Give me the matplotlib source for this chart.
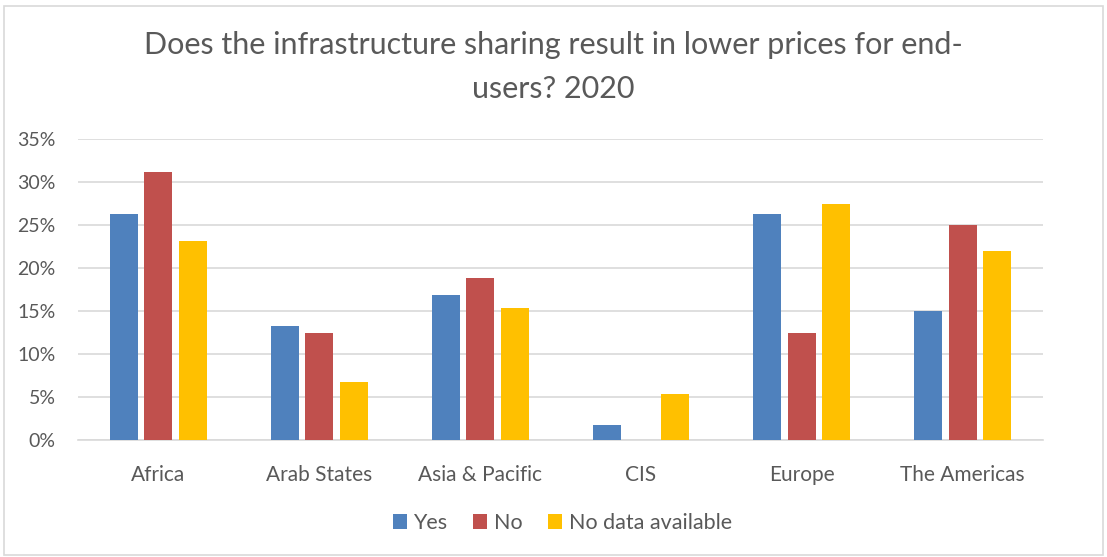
import matplotlib
matplotlib.use("Agg")
import matplotlib.pyplot as plt
from matplotlib.patches import Rectangle
from matplotlib.ticker import FuncFormatter
import numpy as np

plt.rcParams['font.family'] = ['Lato', 'DejaVu Sans']

regions = ["Africa", "Arab States", "Asia & Pacific", "CIS", "Europe", "The Americas"]
yes = [26.3, 13.3, 16.9, 1.8, 26.3, 15.0]
no = [31.2, 12.4, 18.8, 0.0, 12.4, 25.0]
no_data = [23.1, 6.7, 15.4, 5.4, 27.4, 22.0]

series = [("Yes", yes, "#4F81BD"), ("No", no, "#C0504D"), ("No data available", no_data, "#FFC000")]
text_col = "#595959"

fig = plt.figure(figsize=(11.07, 5.57), dpi=100)
ax = fig.add_axes([0.0705, 0.210, 0.8717, 0.5404])

x = np.arange(len(regions))
step = 0.214
width = 0.174
for i, (name, vals, col) in enumerate(series):
    ax.bar(x + (i - 1) * step, vals, width, color=col, label=name, zorder=3)

ax.set_xlim(-0.5, len(regions) - 0.5)
ax.set_ylim(0, 35)
ax.set_yticks(np.arange(0, 36, 5))
ax.yaxis.set_major_formatter(FuncFormatter(lambda v, p: f"{v:.0f}%"))
ax.set_xticks(x)
ax.set_xticklabels(regions)
ax.grid(axis="y", color="#D9D9D9", linewidth=1.2, zorder=0)
for s in ["top", "right", "left"]:
    ax.spines[s].set_visible(False)
ax.spines["bottom"].set_color("#D9D9D9")
ax.spines["bottom"].set_linewidth(1.2)
ax.tick_params(axis="both", length=0, colors=text_col)
ax.tick_params(axis="x", pad=18, labelsize=15)
ax.tick_params(axis="y", pad=16, labelsize=14)

fig.text(0.5, 0.919, "Does the infrastructure sharing result in lower prices for end-",
         ha="center", va="center", fontsize=22, color=text_col)
fig.text(0.5, 0.841, "users? 2020", ha="center", va="center", fontsize=22, color=text_col)

fig.legend(loc="center", bbox_to_anchor=(0.508, 0.061), ncol=3, frameon=False,
           fontsize=15.5, labelcolor=text_col, handlelength=0.65, handleheight=0.65,
           handletextpad=0.3, columnspacing=1.2)

fig.add_artist(Rectangle((0.004, 0.004), 0.992, 0.985, transform=fig.transFigure,
                         fill=False, edgecolor="#D9D9D9", linewidth=1.2))

fig.savefig("out.png", dpi=100, facecolor="white")
